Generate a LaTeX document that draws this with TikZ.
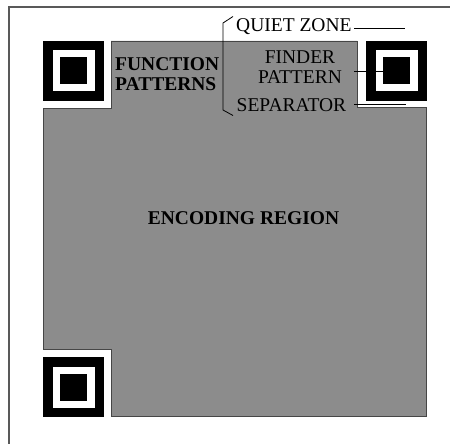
\documentclass[tikz,border=0pt]{standalone}
\usepackage{fontspec}
\setmainfont{Liberation Serif}

\definecolor{regiongray}{RGB}{140,140,140}
\definecolor{edgegray}{RGB}{70,70,70}

\begin{document}
\begin{tikzpicture}[x = 1pt, y = -1pt,
	qrtext/.style = {inner sep = 0pt, font = \fontsize{19.5}{20}\selectfont},
	qrbold/.style = {inner sep = 0pt, font = \fontsize{19.5}{20}\selectfont\bfseries},
	leader/.style = {black, line width = 0.8pt}]
	 \useasboundingbox (0, 0) rectangle (450, 444);
	 
	 % quiet zone frame
	 \draw[black!65, line width = 1.2pt] (9, 444) -- (9, 7) -- (450, 7);
	 
	 % encoding region
	 \draw[fill = regiongray, draw = edgegray, line width = 0.8pt]
	 (111, 41) -- (357, 41) -- (357, 107.5) -- (426, 107.5) -- (426, 416)
	 -- (111, 416) -- (111, 349) -- (43, 349) -- (43, 108) -- (111, 108) -- cycle;
	 
	 % finder patterns
	 \foreach \fx/\fy in {43/41, 366/41, 43/357}
	 {
	 \fill[black] (\fx, \fy) rectangle ++(61, 60);
	 \fill[white] (\fx + 9.5, \fy + 9.5) rectangle ++(42, 41);
	 \fill[black] (\fx + 16.5, \fy + 16.5) rectangle ++(27.5, 27);
	 }
	 
	 \node[qrtext, anchor = base west] (quiet) at (236, 32) {QUIET ZONE};
	 \node[qrtext, anchor = base] (finder) at (300, 63.5) {FINDER};
	 \node[qrtext, anchor = base] (pattern) at (300, 83.5) {PATTERN};
	 \node[qrtext, anchor = base west] (separator) at (236.5, 111.5) {SEPARATOR};
	 
	 \node[qrbold, anchor = base west] (function) at (115, 70.5) {FUNCTION};
	 \node[qrbold, anchor = base west] (patterns) at (115, 90.5) {PATTERNS};
	 \node[qrbold, anchor = base] (encoding) at (243.5, 224) {ENCODING REGION};
	 
	 % leader lines
	 \coordinate (leadstart) at (354, 0);
	 \coordinate (quietend) at (405, 28);
	 \coordinate (finderdot) at (382.5, 71);
	 \coordinate (sepend) at (405.5, 104);
	 \draw[leader] (leadstart |- quietend) -- (quietend);
	 \draw[leader] (leadstart |- finderdot) -- (finderdot);
	 \draw[leader] (leadstart |- sepend) -- (sepend);
	 
	 % bracket
	 \draw[leader] (233, 16.5) -- (223, 23) -- (223, 110) -- (233, 115.5);
\end{tikzpicture}
\end{document}
